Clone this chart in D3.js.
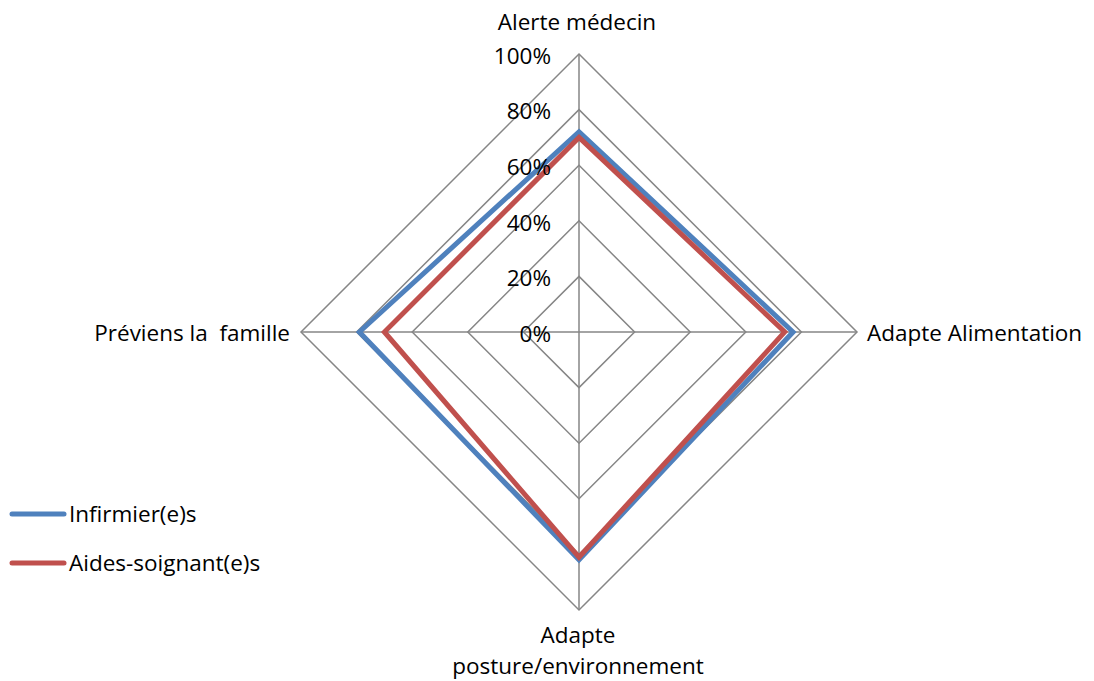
<!DOCTYPE html>
<html>
<head>
<meta charset="utf-8">
<script src="https://cdn.jsdelivr.net/npm/d3@7"></script>
<style>
  body { margin: 0; background: #fff; }
  svg { display: block; }
  text { font-family: "Open Sans", sans-serif; fill: #000; white-space: pre; }
</style>
</head>
<body>
<svg id="chart" width="1094" height="681"></svg>
<script>
// Axes (clockwise from top) and series values, as fractions
const axes = ["Alerte médecin", "Adapte Alimentation", "Adapte posture/environnement", "Préviens la  famille"];
const infirmiers = [0.72, 0.77, 0.82, 0.79];
const aidesSoignants = [0.70, 0.74, 0.81, 0.70];
const tickValues = [0, 0.2, 0.4, 0.6, 0.8, 1.0];
const seriesNames = ["Infirmier(e)s", "Aides-soignant(e)s"];
const seriesColors = ["#4F81BD", "#C0504D"];

const FS = 22.5;
const svg = d3.select("#chart");
const cx = 579, cy = 332, R = 278;
const r = d3.scaleLinear().domain([0, 1]).range([0, R]);
const angle = i => (i / axes.length) * 2 * Math.PI;
const pt = (i, v) => [cx + r(v) * Math.sin(angle(i)), cy - r(v) * Math.cos(angle(i))];

const g = svg.append("g");

// Grid polygons
tickValues.filter(t => t > 0).forEach(t => {
  g.append("path")
    .attr("d", d3.line()(axes.map((_, i) => pt(i, t))) + "Z")
    .attr("fill", "none").attr("stroke", "#868686").attr("stroke-width", 1.5);
});
// Spokes
axes.forEach((_, i) => {
  const [x, y] = pt(i, 1);
  g.append("line").attr("x1", cx).attr("y1", cy).attr("x2", x).attr("y2", y)
    .attr("stroke", "#868686").attr("stroke-width", 1.5);
});

// Series
const fmt = d3.format(".0%");
[infirmiers, aidesSoignants].forEach((vals, s) => {
  g.append("path")
    .attr("d", d3.line()(vals.map((v, i) => pt(i, v))) + "Z")
    .attr("fill", "none").attr("stroke", seriesColors[s])
    .attr("stroke-width", 5).attr("stroke-linejoin", "miter");
});

// Tick labels along the top spoke
tickValues.forEach(t => {
  g.append("text").attr("x", cx - 28).attr("y", cy - r(t) + 2)
    .attr("dy", "0.35em").attr("text-anchor", "end")
    .attr("font-size", FS).text(fmt(t));
});

// Axis labels
const lab = (x, y, anchor, txt) => svg.append("text").attr("x", x).attr("y", y)
  .attr("text-anchor", anchor).attr("dy", "0.35em").attr("font-size", FS).text(txt);
lab(577, 22, "middle", axes[0]);
lab(867, 333, "start", axes[1]);
lab(578, 635, "middle", "Adapte");
lab(578, 666, "middle", "posture/environnement");
lab(290, 333, "end", axes[3]);

// Legend
seriesNames.forEach((name, s) => {
  const y = 514 + s * 49;
  svg.append("line").attr("x1", 12).attr("x2", 64).attr("y1", y).attr("y2", y)
    .attr("stroke", seriesColors[s]).attr("stroke-width", 5).attr("stroke-linecap", "round");
  svg.append("text").attr("x", 69).attr("y", y).attr("dy", "0.35em")
    .attr("font-size", FS).text(name);
});
</script>
</body>
</html>
